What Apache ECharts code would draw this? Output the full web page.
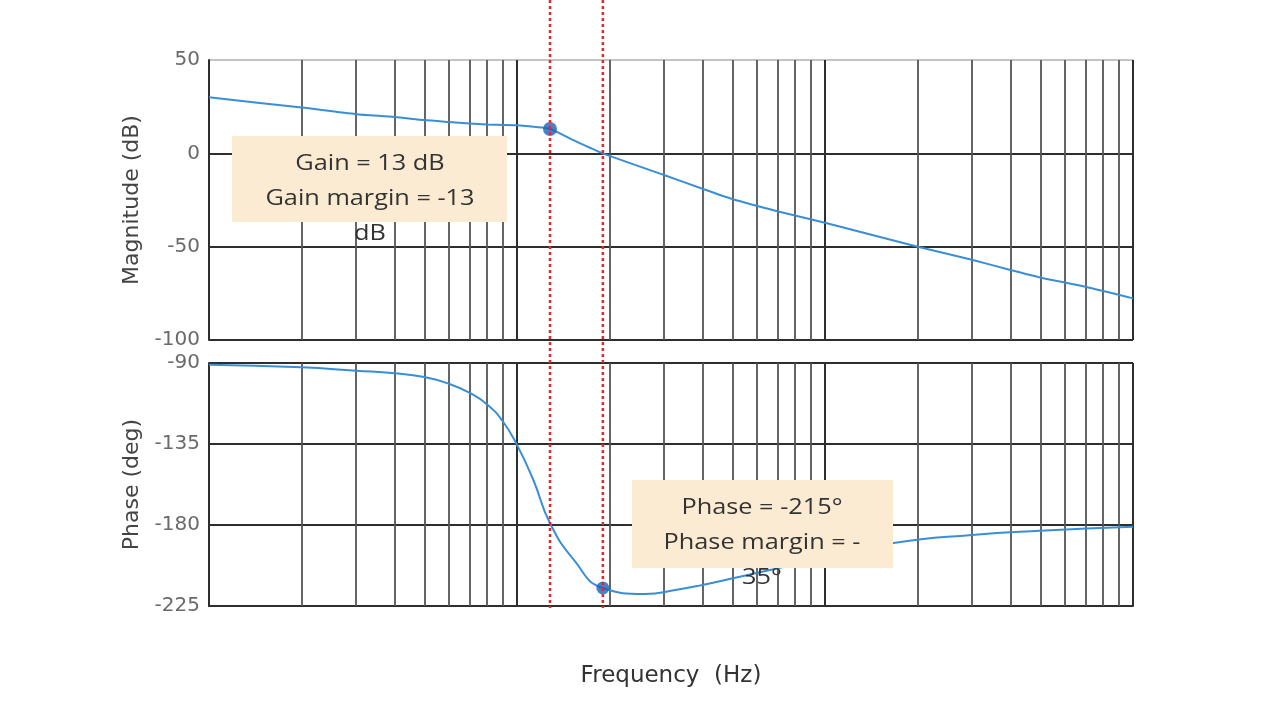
<!DOCTYPE html>
<html><head><meta charset="utf-8">
<script src="https://cdn.jsdelivr.net/npm/echarts@6/dist/echarts.min.js"></script>
<style>html,body{margin:0;padding:0;background:#fff}#c{width:1280px;height:720px}</style>
</head><body><div id="c"></div>
<script>
// ---- data ----
const magFreq = [1, 2, 3, 4, 5, 6, 7, 8, 10, 12.8, 15, 19, 30, 40, 50, 70, 100, 200, 300, 400, 500, 700, 1000];
const magDb   = [30, 24.5, 21, 19.5, 17.8, 16.8, 16, 15.5, 15, 13, 7.6, 0, -11.6, -19, -24.5, -31, -37.2, -50, -57, -62.5, -66.5, -71.5, -77.7];
const phaseFreq = [1, 2, 3, 4, 5, 6, 7, 8, 9, 10, 11.3, 12.8, 15.3, 19, 26, 33, 40, 52, 68, 100, 167, 300, 500, 1000];
const phaseDeg  = [-91, -92.4, -94.3, -95.7, -97.8, -101.5, -106.5, -113, -122.5, -135.5, -155, -179, -199.4, -215, -218.3, -216, -213.3, -209, -204.6, -198, -190, -185.5, -183.2, -181];
const minorFreqs = [2, 3, 4, 5, 6, 7, 8, 9, 20, 30, 40, 50, 60, 70, 80, 90, 200, 300, 400, 500, 600, 700, 800, 900];
const gainPoint = [12.8, 13];
const phasePoint = [19, -215];
const gainText = ['Gain = 13 dB', 'Gain margin = -13', 'dB'];
const phaseText = ['Phase = -215°', 'Phase margin = -', '35°'];

const chart = echarts.init(document.getElementById('c'), null, {renderer: 'canvas'});
const dark = '#2e2e2e';
const minorLineStyle = {color: '#555', width: 1.8, type: 'solid'};
const labelStyle = {color: '#6a6a6a', fontSize: 20, fontFamily: 'DejaVu Sans', margin: 9};
const nameStyle = {color: '#444', fontSize: 22, fontFamily: 'DejaVu Sans'};

function minorMarkLine() {
  return {
    silent: true, symbol: 'none', z: 1, animation: false,
    label: {show: false},
    lineStyle: minorLineStyle,
    data: minorFreqs.map(f => ({xAxis: f}))
  };
}

const option = {
  animation: false,
  grid: [
    {left: 209, right: 147, top: 60, height: 280},
    {left: 209, right: 147, top: 363, height: 243}
  ],
  xAxis: [
    {type: 'log', logBase: 10, min: 1, max: 1000, gridIndex: 0,
     axisLabel: {show: false}, axisTick: {show: false},
     axisLine: {show: true, lineStyle: {color: dark, width: 2}},
     splitLine: {show: true, lineStyle: {color: dark, width: 2}}},
    {type: 'log', logBase: 10, min: 1, max: 1000, gridIndex: 1,
     axisLabel: {show: false}, axisTick: {show: false},
     axisLine: {show: true, lineStyle: {color: dark, width: 2}},
     splitLine: {show: true, lineStyle: {color: dark, width: 2}},
     name: 'Frequency  (Hz)', nameLocation: 'middle', nameGap: 59,
     nameTextStyle: {color: '#333', fontSize: 23, fontFamily: 'DejaVu Sans'}}
  ],
  yAxis: [
    {type: 'value', min: -100, max: 50, interval: 50, gridIndex: 0,
     axisLabel: labelStyle, axisTick: {show: false},
     axisLine: {show: true, lineStyle: {color: dark, width: 2}},
     splitLine: {show: true, lineStyle: {color: [dark, dark, dark, '#c4c4c4'], width: 2}},
     name: 'Magnitude (dB)', nameLocation: 'middle', nameGap: 65, nameTextStyle: nameStyle},
    {type: 'value', min: -225, max: -90, interval: 45, gridIndex: 1,
     axisLabel: labelStyle, axisTick: {show: false},
     axisLine: {show: true, lineStyle: {color: dark, width: 2}},
     splitLine: {show: true, lineStyle: {color: dark, width: 2}},
     name: 'Phase (deg)', nameLocation: 'middle', nameGap: 65, nameTextStyle: nameStyle}
  ],
  series: [
    {type: 'line', xAxisIndex: 0, yAxisIndex: 0, z: 10, showSymbol: false, smooth: 0.2,
     lineStyle: {color: '#3a8ed4', width: 2},
     data: magFreq.map((f, i) => [f, magDb[i]]),
     markLine: minorMarkLine()},
    {type: 'line', xAxisIndex: 1, yAxisIndex: 1, z: 10, showSymbol: false, smooth: 0.5,
     lineStyle: {color: '#3a8ed4', width: 2},
     data: phaseFreq.map((f, i) => [f, phaseDeg[i]]),
     markLine: minorMarkLine()},
    {type: 'scatter', xAxisIndex: 0, yAxisIndex: 0, z: 12, symbolSize: 14,
     itemStyle: {color: '#1565b4'}, data: [gainPoint]},
    {type: 'scatter', xAxisIndex: 1, yAxisIndex: 1, z: 12, symbolSize: 13,
     itemStyle: {color: '#1565b4'}, data: [phasePoint]}
  ]
};
chart.setOption(option);

const x1 = chart.convertToPixel({xAxisIndex: 0}, gainPoint[0]);
const x2 = chart.convertToPixel({xAxisIndex: 1}, phasePoint[0]);
const redStyle = {stroke: '#e8262a', lineWidth: 2.5, lineDash: [3, 3]};
const textFont = {fill: '#333', font: '22px "Open Sans"', align: 'center', verticalAlign: 'top', lineHeight: 35};

chart.setOption({
  graphic: [
    {type: 'rect', z: 100, shape: {x: 232, y: 136, width: 275, height: 86}, style: {fill: '#fbebd3'}},
    {type: 'text', z: 101, x: 370, y: 146, scaleX: 1.15,
     style: Object.assign({text: gainText.join('\n')}, textFont)},
    {type: 'rect', z: 100, shape: {x: 632, y: 480, width: 261, height: 88}, style: {fill: '#fbebd3'}},
    {type: 'text', z: 101, x: 762, y: 490, scaleX: 1.15,
     style: Object.assign({text: phaseText.join('\n')}, textFont)},
    {type: 'line', z: 110, shape: {x1: x1, y1: 0, x2: x1, y2: 608}, style: redStyle},
    {type: 'line', z: 110, shape: {x1: x2, y1: 0, x2: x2, y2: 608}, style: redStyle}
  ]
});
</script></body></html>
